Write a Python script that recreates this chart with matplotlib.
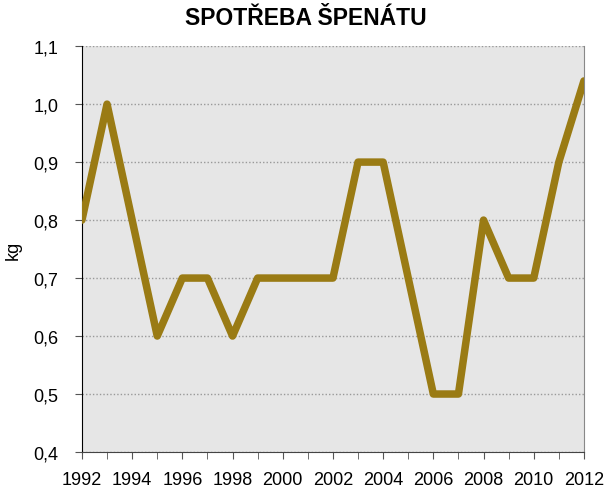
import matplotlib
matplotlib.use("Agg")
import matplotlib.pyplot as plt
from matplotlib.ticker import MultipleLocator, FuncFormatter

plt.rcParams['font.family'] = ['Liberation Sans', 'DejaVu Sans']

# data
roky = list(range(1992, 2013))
spotreba = [0.8, 1.0, 0.8, 0.6, 0.7, 0.7, 0.6, 0.7, 0.7, 0.7, 0.7,
            0.9, 0.9, 0.7, 0.5, 0.5, 0.8, 0.7, 0.7, 0.9, 1.04]

fig = plt.figure(figsize=(6.07, 4.89), dpi=100)
ax = fig.add_axes([0.135, 0.0736, 0.827, 0.830])
ax.set_facecolor('#E6E6E6')

ax.plot(roky, spotreba, color='#9A7B14', lw=5.4, solid_joinstyle='round',
        solid_capstyle='round', zorder=3)

ax.set_xlim(1992, 2012)
ax.set_ylim(0.4, 1.1)
ax.xaxis.set_major_locator(MultipleLocator(2))
ax.xaxis.set_minor_locator(MultipleLocator(1))
ax.yaxis.set_major_locator(MultipleLocator(0.1))
ax.yaxis.set_major_formatter(FuncFormatter(lambda v, p: f"{v:.1f}".replace('.', ',')))

ax.grid(axis='y', color='#999999', linestyle=(0, (1, 1.5)), lw=1)
ax.tick_params(axis='both', labelsize=13, direction='out', length=5, color='#555555')
ax.tick_params(axis='x', which='minor', length=5, color='#555555')
ax.tick_params(axis='x', pad=9)
ax.tick_params(axis='y', pad=12)

ax.spines['top'].set_visible(False)
ax.spines['right'].set_color('#888888')
ax.spines['left'].set_color('black')
ax.spines['bottom'].set_color('#444444')

ax.set_ylabel('kg', fontsize=13, labelpad=8)
fig.suptitle('SPOTŘEBA ŠPENÁTU', fontsize=16.5, fontweight='bold', x=0.503, y=0.985)

fig.savefig('out.png', dpi=100)
